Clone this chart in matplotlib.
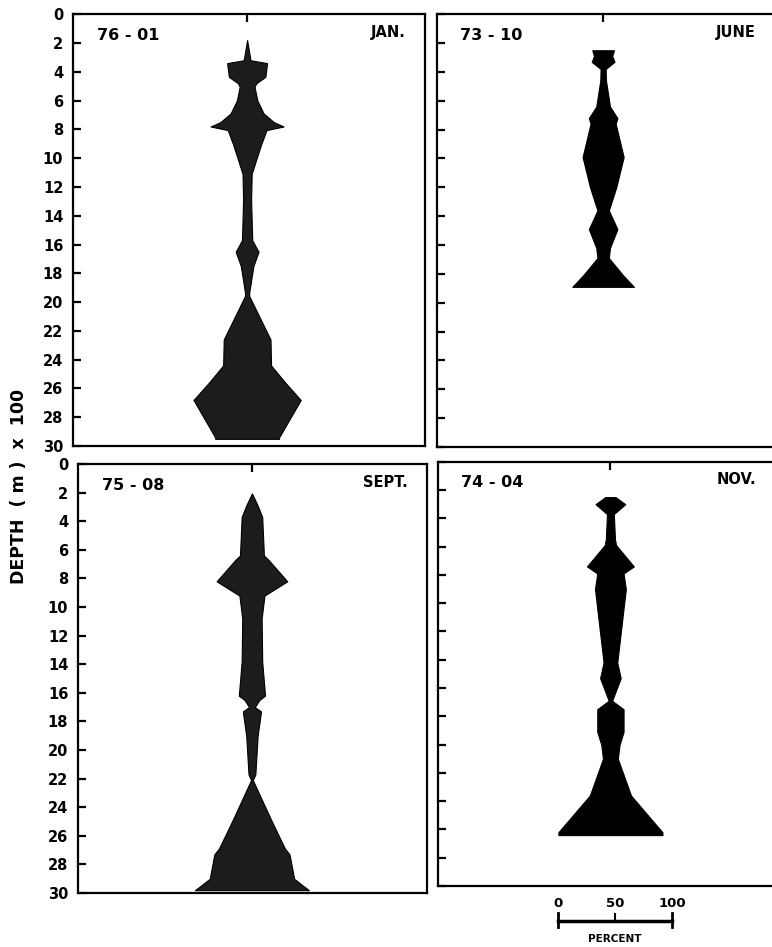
import matplotlib
matplotlib.use('Agg')
import matplotlib.pyplot as plt
import matplotlib.transforms as mtransforms

# kite widths in percent (full width), depth in m x 100
jan_depth = [1.8, 3.2, 3.4, 4.35, 4.8, 5.05, 6.0, 6.9, 7.5, 7.8, 8.05, 9.0, 10.1, 11.1, 12.9, 15.7, 16.5, 17.5, 19.4, 19.6, 22.6, 24.4, 25.6, 26.8, 29.4, 29.5]
jan_width = [0, 6, 35, 32, 16, 13, 18, 29, 47, 64, 34, 25, 16, 8, 7, 9, 20, 11, 3.5, 4, 41, 42, 67, 94, 56, 56]

june_depth = [2.5, 2.9, 3.3, 3.8, 4.6, 6.4, 7.2, 7.6, 9.9, 12.0, 13.6, 14.9, 16.2, 16.9, 18.1, 18.9]
june_width = [19, 16, 20, 4.4, 5, 12, 25, 22, 36, 23, 10, 25, 12, 10, 35, 54]

sept_depth = [2.05, 2.9, 3.7, 6.4, 6.7, 8.2, 9.2, 10.8, 13.8, 16.2, 16.5, 17.0, 17.3, 19.0, 21.7, 22.1, 25.0, 26.9, 27.3, 29.0, 29.5, 29.8]
sept_width = [0, 10, 18, 21, 29, 62, 22, 17, 18, 23, 13, 5, 16, 10, 6, 1.5, 35, 58, 66, 74, 90, 100]

nov_depth = [2.5, 3.0, 3.7, 5.5, 5.9, 7.4, 7.9, 9.0, 14.2, 15.3, 16.9, 17.5, 19.1, 20.0, 21.0, 23.6, 26.2, 26.4]
nov_width = [9, 26, 6, 8, 10, 41, 23, 27, 12, 18, 3, 23, 23, 16, 13, 36, 91, 91]

panels = [
    ('76 - 01', 'JAN.', jan_depth, jan_width, [0.0946, 0.529, 0.456, 0.456], (-152.6, 156), '#1c1c1c', True),
    ('73 - 10', 'JUNE', june_depth, june_width, [0.566, 0.528, 0.437, 0.457], (-145.6, 150), 'black', False),
    ('75 - 08', 'SEPT.', sept_depth, sept_width, [0.101, 0.057, 0.452, 0.453], (-152.6, 153.5), '#1c1c1c', True),
    ('74 - 04', 'NOV.', nov_depth, nov_width, [0.567, 0.0644, 0.437, 0.448], (-151, 144), 'black', False),
]
depth_ticks = list(range(0, 31, 2))

fig = plt.figure(figsize=(7.72, 9.47), dpi=100)
axes = []
for code, month, d, w, rect, xl, col, labels in panels:
    ax = fig.add_axes(rect)
    half = [v / 2 for v in w]
    ax.fill_betweenx(d, [-h for h in half], half, color=col, lw=0.8, edgecolor='black')
    ax.set_xlim(*xl)
    ax.set_ylim(30, 0)
    ax.set_yticks(depth_ticks)
    ax.set_xticks([0])
    ax.tick_params(axis='y', direction='in', length=6, width=1.6, labelleft=labels, pad=7)
    ax.tick_params(axis='x', direction='in', length=6, width=1.6, top=True, bottom=False,
                   labelbottom=False, labeltop=False)
    for lab in ax.get_yticklabels():
        lab.set_fontweight('bold')
        lab.set_fontsize(10.5)
    for s in ax.spines.values():
        s.set_linewidth(1.6)
    ax.text(0.068, 0.968, code, transform=ax.transAxes, fontsize=11.5, fontweight='bold', va='top', ha='left')
    ax.text(0.945, 0.975, month, transform=ax.transAxes, fontsize=10.5, fontweight='bold', va='top', ha='right')
    axes.append(ax)

fig.text(0.024, 0.486, 'DEPTH  ( m )  x  100', rotation=90, fontsize=12.5, fontweight='bold',
         ha='center', va='center')

# percent scale bar under the last panel
ax = axes[3]
tr = mtransforms.blended_transform_factory(ax.transData, fig.transFigure)
x0, x50, x100 = -46, 4, 54
ax.plot([x0, x100], [0.0275, 0.0275], color='black', lw=2.5, transform=tr, clip_on=False)
ax.plot([x0, x0], [0.021, 0.036], color='black', lw=2, transform=tr, clip_on=False)
ax.plot([x100, x100], [0.021, 0.036], color='black', lw=2, transform=tr, clip_on=False)
ax.plot([x50, x50], [0.0275, 0.035], color='black', lw=1.5, transform=tr, clip_on=False)
for xv, t in [(x0, '0'), (x50, '50'), (x100, '100')]:
    ax.text(xv, 0.046, t, transform=tr, fontsize=9.5, fontweight='bold', ha='center', va='center')
ax.text(x50, 0.008, 'PERCENT', transform=tr, fontsize=7.5, fontweight='bold', ha='center', va='center')

fig.savefig('out.png', dpi=100)
